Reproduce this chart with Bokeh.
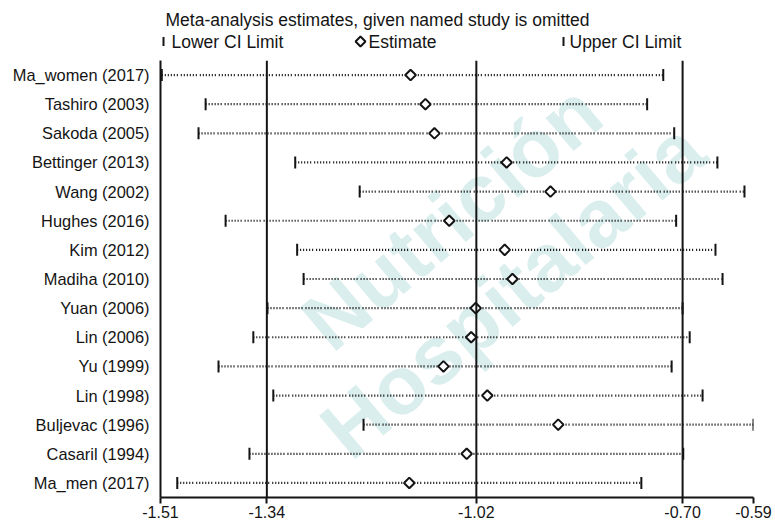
import math
from bokeh.plotting import figure
from bokeh.layouts import column
from bokeh.models import (Range1d, FactorRange, FixedTicker, Span, Label,
                          ColumnDataSource)
from bokeh.embed import file_html
from bokeh.resources import INLINE

# ---------------- data ----------------
studies = ["Ma_women (2017)", "Tashiro (2003)", "Sakoda (2005)", "Bettinger (2013)",
           "Wang (2002)", "Hughes (2016)", "Kim (2012)", "Madiha (2010)", "Yuan (2006)",
           "Lin (2006)", "Yu (1999)", "Lin (1998)", "Buljevac (1996)", "Casaril (1994)",
           "Ma_men (2017)"]
estimate = [-1.122, -1.099, -1.085, -0.973, -0.905, -1.062, -0.976, -0.964, -1.021,
            -1.028, -1.071, -1.003, -0.893, -1.035, -1.124]
lower = [-1.508, -1.440, -1.451, -1.301, -1.201, -1.409, -1.298, -1.288, -1.344,
         -1.366, -1.420, -1.335, -1.195, -1.372, -1.484]
upper = [-0.730, -0.755, -0.713, -0.646, -0.604, -0.710, -0.649, -0.638, -0.700,
         -0.689, -0.717, -0.669, -0.590, -0.699, -0.764]

overall_est = -1.02
overall_lo = -1.345
overall_hi = -0.70
axis_min = -1.51
axis_max = -0.59
tick_values = [axis_min, overall_lo, overall_est, overall_hi, axis_max]
tick_labels = ["-1.51", "-1.34", "-1.02", "-0.70", "-0.59"]

title_text = "Meta-analysis estimates, given named study is omitted"
legend_labels = ["Lower CI Limit", "Estimate", "Upper CI Limit"]
watermark = ["Nutrición", "Hospitalaria"]

FONT = "Liberation Sans"
INK = "#141414"
W, H, HEAD = 775, 528, 60
LEFT, RIGHT = 160, 22
FRAME_W = W - LEFT - RIGHT

# ---------------- header: title + key (same frame as the plot) ----------------
hd = figure(width=W, height=HEAD, output_backend="svg", toolbar_location=None,
            x_range=Range1d(0, FRAME_W), y_range=Range1d(0, HEAD), title=None,
            min_border_left=LEFT, min_border_right=RIGHT,
            min_border_top=0, min_border_bottom=0)
hd.axis.visible = False
hd.grid.visible = False
hd.outline_line_color = None

hd.add_layout(Label(x=5, y=HEAD - 19, x_units="screen", y_units="screen",
                    text=title_text, text_align="left", text_baseline="middle",
                    text_font=FONT, text_font_size="17.5px", text_color=INK))
key_sym_x = [3, 200, 403]
key_txt_x = [11, 208, 409]
key_y = HEAD - 41
key_markers = ["dash", "square", "dash"]
key_angles = [math.pi / 2, math.pi / 4, math.pi / 2]
key_sizes = [9, 7, 9]
for lab, sx, tx, mk, an, sz in zip(legend_labels, key_sym_x, key_txt_x,
                                   key_markers, key_angles, key_sizes):
    hd.scatter(x=[sx], y=[key_y], marker=mk, angle=an, size=sz, line_color=INK,
               line_width=2, fill_color="white")
    hd.add_layout(Label(x=tx, y=key_y, x_units="screen", y_units="screen",
                        text=lab, text_align="left", text_baseline="middle",
                        text_font=FONT, text_font_size="17.5px", text_color=INK))

# ---------------- main plot ----------------
p = figure(width=W, height=H - HEAD, output_backend="svg", toolbar_location=None,
           title=None, x_range=Range1d(axis_min, axis_max),
           y_range=FactorRange(factors=list(reversed(studies)), range_padding=0),
           min_border_left=LEFT, min_border_right=RIGHT, min_border_top=0,
           min_border_bottom=31)
p.outline_line_color = None
p.xgrid.visible = False
p.ygrid.visible = False
p.background_fill_color = "white"

# watermark (kept inside the plotting frame)
for txt, fx, fy in zip(watermark, [291, 352], [281, 208]):
    p.add_layout(Label(x=fx, y=fy, x_units="screen", y_units="screen", text=txt,
                       angle=0.70, text_align="center", text_baseline="middle",
                       text_font=FONT, text_font_style="bold",
                       text_font_size="82px", text_color="#dbeeee", level="underlay"))

for v in [overall_lo, overall_est, overall_hi]:
    p.add_layout(Span(location=v, dimension="height", line_color=INK, line_width=2))

src = ColumnDataSource(dict(study=studies, est=estimate, lo=lower, hi=upper))

p.segment(x0="lo", x1="hi", y0="study", y1="study", source=src, line_color="black",
          line_width=2.2, line_dash="1 2 1 2 1 2 1 2 1 2 1 3")
p.scatter(x="lo", y="study", source=src, marker="dash", angle=math.pi / 2,
          size=12, line_color=INK, line_width=2)
p.scatter(x="hi", y="study", source=src, marker="dash", angle=math.pi / 2,
          size=12, line_color=INK, line_width=2)
p.scatter(x="est", y="study", source=src, marker="square", angle=math.pi / 4,
          size=7.5, line_color=INK, line_width=2, fill_color="white")

xa = p.xaxis[0]
xa.ticker = FixedTicker(ticks=tick_values)
xa.major_label_overrides = {v: l for v, l in zip(tick_values, tick_labels)}
xa.minor_tick_line_color = None
xa.major_tick_in = 0
xa.major_tick_out = 6
xa.major_tick_line_width = 2
xa.major_tick_line_color = INK
xa.axis_line_width = 2
xa.axis_line_color = INK
xa.major_label_standoff = 2
xa.major_label_text_font = FONT
xa.major_label_text_font_size = "16px"
xa.major_label_text_color = INK

ya = p.yaxis[0]
ya.major_tick_line_color = None
ya.minor_tick_line_color = None
ya.major_tick_in = 0
ya.major_tick_out = 0
ya.axis_line_width = 2
ya.axis_line_color = INK
ya.major_label_standoff = 11
ya.major_label_text_font = FONT
ya.major_label_text_font_size = "16.4px"
ya.major_label_text_color = INK

layout = column(hd, p, spacing=0)
open("out.html", "w").write(file_html(layout, INLINE))
